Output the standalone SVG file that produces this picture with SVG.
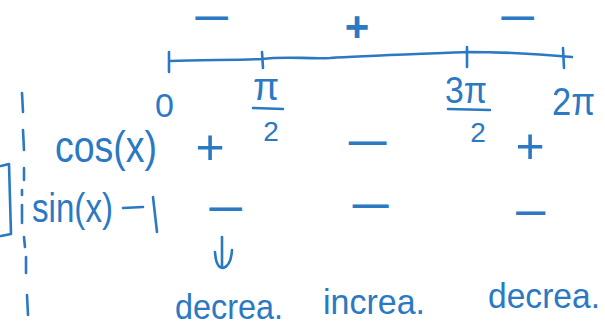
<svg xmlns="http://www.w3.org/2000/svg" width="605" height="328" viewBox="0 0 605 328">
<style>
.ink{fill:none;stroke:#2b79c3;stroke-width:2.6;stroke-linecap:round;stroke-linejoin:round}
text{fill:#2b79c3;font-family:"Liberation Sans",Arial,sans-serif}
.mn{font-size:30px;font-weight:bold;text-anchor:middle}
.pl{font-size:50px;text-anchor:middle}
.wd{font-size:35px}
</style>
<rect width="605" height="328" fill="#ffffff"/>
<g id="axis">
<path class="ink" d="M170,61 C200,60 240,60 262,59 C285,56 305,59 330,58 C360,56 420,54 467,52 C510,52 540,54 572,57"/>
<path class="ink" d="M169,52 L169,72 M262,52 L263,68 M467,47 L467,67 M563,48 L564,68"/>
</g>
<g id="top-signs">
<text class="mn" x="212" y="27.5" textLength="38" lengthAdjust="spacingAndGlyphs">−</text>
<text x="357" y="41" style="font-size:42px;text-anchor:middle;font-weight:bold">+</text>
<text class="mn" x="518" y="27.5" textLength="38" lengthAdjust="spacingAndGlyphs">−</text>
</g>
<g id="tick-labels">
<text x="155" y="117" style="font-size:34px">0</text>
<text x="266" y="100" style="font-size:38px;text-anchor:middle">π</text>
<path class="ink" d="M253,108 L283,109 M448,109 L490,110"/>
<text x="271" y="141" style="font-size:28px;text-anchor:middle">2</text>
<text x="445" y="103" style="font-size:36px" textLength="42" lengthAdjust="spacingAndGlyphs">3π</text>
<text x="478" y="142" style="font-size:28px;text-anchor:middle">2</text>
<text x="552" y="115" style="font-size:38px" textLength="43" lengthAdjust="spacingAndGlyphs">2π</text>
</g>
<g id="guide">
<path class="ink" d="M22,93 L23,112 M23,130 L24,150 M24,168 L24,180 M22,190 L22,195 M22,205 L22,223 M24,237 L25,247 M26,257 L26,273 M27,295 L28,315"/>
<path class="ink" d="M1,166 L9,164 L11,234 L1,236"/>
</g>
<g id="row-cos">
<text x="55" y="162" style="font-size:44px" textLength="102" lengthAdjust="spacingAndGlyphs">cos(x)</text>
<text class="pl" x="210" y="164">+</text>
<text class="mn" x="368" y="152.5" textLength="44" lengthAdjust="spacingAndGlyphs">−</text>
<text class="pl" x="530" y="163">+</text>
</g>
<g id="row-sin">
<text x="32" y="222" style="font-size:40px" textLength="81" lengthAdjust="spacingAndGlyphs">sin(x)</text>
<path class="ink" d="M123,208 L143,207 M153,197 L157,232"/>
<text class="mn" x="226" y="218.5" textLength="38" lengthAdjust="spacingAndGlyphs">−</text>
<text class="mn" x="371" y="215.5" textLength="42" lengthAdjust="spacingAndGlyphs">−</text>
<text class="mn" x="531" y="222.5" textLength="34" lengthAdjust="spacingAndGlyphs">−</text>
</g>
<g id="connectors">
<path class="ink" d="M222,237 L222,266 M215,252 Q216,268 223,268 Q231,266 232,250"/>
</g>
<g id="behaviour">
<text class="wd" x="175" y="319" textLength="108" lengthAdjust="spacingAndGlyphs">decrea.</text>
<text class="wd" x="323" y="314" textLength="102" lengthAdjust="spacingAndGlyphs">increa.</text>
<text class="wd" x="488" y="308" textLength="112" lengthAdjust="spacingAndGlyphs">decrea.</text>
</g>
</svg>
